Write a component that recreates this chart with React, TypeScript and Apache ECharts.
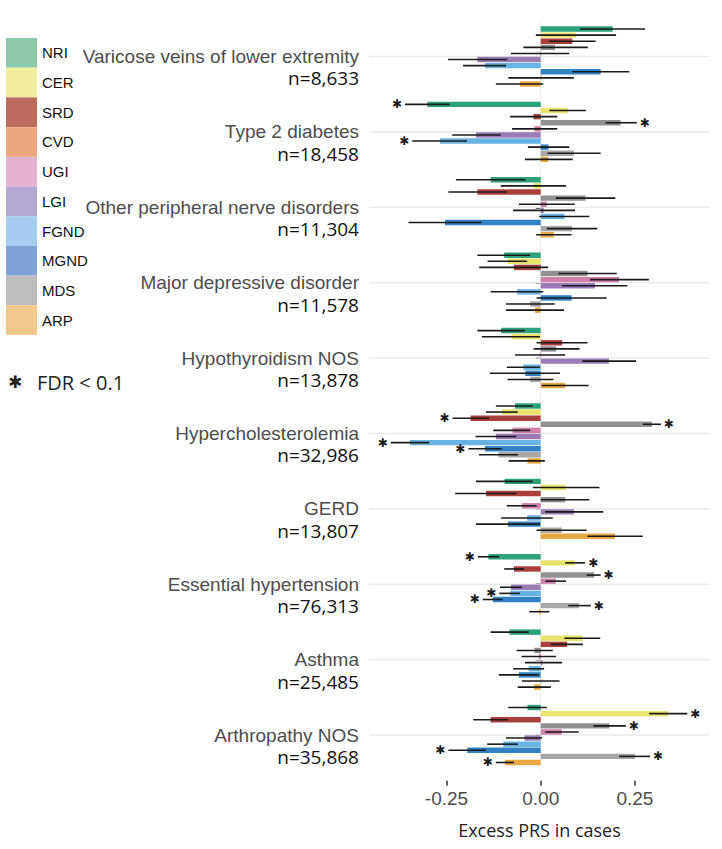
import React, { useEffect, useRef } from "react";
import * as echarts from "echarts";

const categories = [
  "Varicose veins of lower extremity",
  "Type 2 diabetes",
  "Other peripheral nerve disorders",
  "Major depressive disorder",
  "Hypothyroidism NOS",
  "Hypercholesterolemia",
  "GERD",
  "Essential hypertension",
  "Asthma",
  "Arthropathy NOS",
];
const sampleSizes = ["8,633", "18,458", "11,304", "11,578", "13,878", "32,986", "13,807", "76,313", "25,485", "35,868"];
const subgroups = ["NRI", "CER", "SRD", "CVD", "UGI", "LGI", "FGND", "MGND", "MDS", "ARP"];

// rows: diseases, columns: subgroups (NRI..ARP)
const estimates = [
  [0.191, 0.094, 0.084, 0.038, -0.002, -0.168, -0.148, 0.159, 0.001, -0.055],
  [-0.301, 0.072, -0.019, 0.212, -0.017, -0.172, -0.267, 0.021, 0.088, 0.02],
  [-0.133, -0.019, -0.168, 0.119, 0.016, 0.008, 0.063, -0.254, 0.083, 0.035],
  [-0.097, -0.088, -0.071, 0.124, 0.208, 0.144, -0.063, 0.082, -0.028, -0.015],
  [-0.105, -0.077, 0.057, 0.041, -0.001, 0.181, -0.046, -0.041, -0.028, 0.065],
  [-0.068, -0.103, -0.186, 0.295, -0.075, -0.119, -0.347, -0.148, -0.112, -0.035],
  [-0.096, 0.067, -0.145, 0.065, -0.05, 0.088, -0.036, -0.087, 0.056, 0.197],
  [-0.139, 0.091, -0.071, 0.142, 0.04, -0.079, -0.081, -0.127, 0.102, -0.004],
  [-0.083, 0.111, 0.07, -0.017, -0.005, 0.004, -0.032, -0.058, 0.002, -0.018],
  [-0.035, 0.338, -0.133, 0.182, 0.056, -0.043, -0.099, -0.195, 0.25, -0.095],
];
const ciLow = [
  [0.104, -0.013, 0.022, -0.046, -0.079, -0.246, -0.206, 0.084, -0.086, -0.119],
  [-0.36, 0.023, -0.081, 0.172, -0.076, -0.235, -0.341, -0.034, 0.018, -0.042],
  [-0.225, -0.106, -0.245, 0.04, -0.058, -0.073, -0.004, -0.351, 0.016, -0.012],
  [-0.168, -0.141, -0.163, 0.047, 0.131, 0.057, -0.133, -0.011, -0.092, -0.092],
  [-0.168, -0.156, -0.011, -0.019, -0.068, 0.11, -0.09, -0.135, -0.088, 0.003],
  [-0.119, -0.145, -0.234, 0.271, -0.126, -0.173, -0.398, -0.192, -0.164, -0.085],
  [-0.172, -0.021, -0.227, 0.0, -0.09, 0.012, -0.105, -0.172, -0.011, 0.124],
  [-0.167, 0.065, -0.097, 0.122, 0.012, -0.108, -0.11, -0.154, 0.073, -0.03],
  [-0.133, 0.063, 0.027, -0.064, -0.051, -0.042, -0.073, -0.111, -0.05, -0.061],
  [-0.086, 0.288, -0.179, 0.14, 0.012, -0.092, -0.142, -0.245, 0.208, -0.119],
];
const ciHigh = [
  [0.277, 0.2, 0.146, 0.125, 0.076, -0.089, -0.092, 0.235, 0.088, 0.007],
  [-0.242, 0.12, 0.044, 0.255, 0.044, -0.106, -0.196, 0.076, 0.159, 0.085],
  [-0.04, 0.067, -0.09, 0.198, 0.09, 0.091, 0.129, -0.157, 0.15, 0.082],
  [-0.028, -0.036, 0.02, 0.202, 0.287, 0.23, 0.007, 0.175, 0.037, 0.062],
  [-0.042, -0.002, 0.124, 0.103, 0.065, 0.253, -0.002, 0.051, 0.034, 0.127],
  [-0.021, -0.061, -0.137, 0.319, -0.028, -0.065, -0.296, -0.103, -0.06, 0.011],
  [-0.021, 0.156, -0.064, 0.129, -0.011, 0.166, 0.032, -0.002, 0.122, 0.271],
  [-0.11, 0.118, -0.044, 0.159, 0.067, -0.05, -0.055, -0.101, 0.133, 0.023],
  [-0.032, 0.158, 0.112, 0.032, 0.041, 0.057, 0.009, -0.005, 0.05, 0.027],
  [0.016, 0.389, -0.087, 0.226, 0.101, 0.004, -0.06, -0.145, 0.29, -0.071],
];
const fdrSignificant = [
  [0, 0, 0, 0, 0, 0, 0, 0, 0, 0],
  [1, 0, 0, 1, 0, 0, 1, 0, 0, 0],
  [0, 0, 0, 0, 0, 0, 0, 0, 0, 0],
  [0, 0, 0, 0, 0, 0, 0, 0, 0, 0],
  [0, 0, 0, 0, 0, 0, 0, 0, 0, 0],
  [0, 0, 1, 1, 0, 0, 1, 1, 0, 0],
  [0, 0, 0, 0, 0, 0, 0, 0, 0, 0],
  [1, 1, 0, 1, 0, 0, 1, 1, 1, 0],
  [0, 0, 0, 0, 0, 0, 0, 0, 0, 0],
  [0, 1, 0, 1, 0, 0, 0, 1, 1, 1],
];
const xTicks = [-0.25, 0, 0.25];

const barColors = ["#2ea07c", "#e8e46e", "#aa403c", "#919191", "#ce80aa", "#9a7cb4", "#68b2e4", "#3282c3", "#a8a8a8", "#e8a844"];
const legendColors = ["#8cc8a9", "#f2ee9f", "#bd6b5c", "#eca77f", "#e4b3cf", "#b3a8d0", "#a4cdef", "#7ea3d4", "#bdbdbd", "#f2c88c"];

const X_MIN = -0.4557;
const X_MAX = 0.4493;

export default function App() {
  const ref = useRef<HTMLDivElement>(null);
  useEffect(() => {
    document.body.style.margin = "0";
    if (!ref.current) return;
    const chart = echarts.init(ref.current, null, { renderer: "svg" });

    const gridSeries: any = {
      type: "custom",
      name: "__grid",
      silent: true,
      z: 1,
      data: categories.map((_, i) => [0, i]),
      encode: { x: 0, y: 1 },
      renderItem: (params: any, api: any) => {
        const cs = params.coordSys;
        const i = api.value(1);
        const p = api.coord([0, i]);
        const children: any[] = [
          {
            type: "line",
            shape: { x1: cs.x, y1: p[1], x2: cs.x + cs.width, y2: p[1] },
            style: { stroke: "#ebebeb", lineWidth: 1.6 },
          },
        ];
        if (i === 0) {
          children.push({
            type: "line",
            shape: { x1: p[0], y1: cs.y, x2: p[0], y2: cs.y + cs.height },
            style: { stroke: "#ececec", lineWidth: 1 },
          });
        }
        return { type: "group", children };
      },
    };

    const barSeries = subgroups.map((name, j) => ({
      type: "custom",
      name,
      z: 2,
      itemStyle: { color: legendColors[j] },
      data: categories.map((_, i) => [
        estimates[i][j],
        ciLow[i][j],
        ciHigh[i][j],
        fdrSignificant[i][j],
        i,
      ]),
      encode: { x: [0, 1, 2], y: 4 },
      renderItem: (params: any, api: any) => {
        const v = api.value(0);
        const lo = api.value(1);
        const hi = api.value(2);
        const sig = api.value(3);
        const cat = api.value(4);
        const band = api.size([0, 1])[1];
        const off = (j - 4.5) * band * 0.081;
        const h = band * 0.072;
        const p0 = api.coord([0, cat]);
        const pv = api.coord([v, cat]);
        const pl = api.coord([lo, cat]);
        const ph = api.coord([hi, cat]);
        const y = p0[1] + off;
        const children: any[] = [
          {
            type: "rect",
            shape: {
              x: Math.min(p0[0], pv[0]),
              y: y - h / 2,
              width: Math.max(Math.abs(pv[0] - p0[0]), 0.8),
              height: h,
            },
            style: { fill: barColors[j] },
          },
          {
            type: "line",
            shape: { x1: pl[0], y1: y, x2: ph[0], y2: y },
            style: { stroke: "#1a1a1a", lineWidth: 1.6 },
          },
        ];
        if (sig) {
          const ax = v > 0 ? ph[0] + 8 : pl[0] - 8;
          children.push({
            type: "text",
            x: ax,
            y: y,
            style: {
              text: "✱",
              fontSize: 12,
              fontFamily: "DejaVu Sans",
              fill: "#1a1a1a",
              align: "center",
              verticalAlign: "middle",
            },
          });
        }
        return { type: "group", children };
      },
    }));

    chart.setOption({
      animation: false,
      grid: { left: 369, right: 12, top: 18.8, bottom: 76.3 },
      legend: {
        data: subgroups,
        orient: "vertical",
        left: 6,
        top: 38,
        padding: 0,
        itemGap: 0,
        itemWidth: 31,
        itemHeight: 29.7,
        icon: "rect",
        selectedMode: false,
        textStyle: { fontSize: 15, fontFamily: "Liberation Sans", color: "#111" },
      },
      xAxis: {
        type: "value",
        min: X_MIN,
        max: X_MAX,
        offset: 8,
        axisLine: { show: false },
        splitLine: { show: false },
        axisTick: {
          show: true,
          customValues: xTicks,
          length: 5,
          lineStyle: { color: "#333", width: 1.5 },
        },
        axisLabel: {
          customValues: xTicks,
          formatter: (v: number) => v.toFixed(2),
          color: "#4d4d4d",
          fontSize: 19,
          fontFamily: "Liberation Sans",
          margin: 8,
        },
        name: "Excess PRS in cases",
        nameLocation: "middle",
        nameGap: 40,
        nameTextStyle: { fontSize: 18, fontFamily: "Open Sans", color: "#222" },
      },
      yAxis: {
        type: "category",
        inverse: true,
        data: categories,
        axisLine: { show: false },
        splitLine: { show: false },
        axisTick: {
          show: true,
          alignWithLabel: true,
          length: 5,
          lineStyle: { color: "#333", width: 1.5 },
        },
        axisLabel: {
          margin: 10,
          interval: 0,
          align: "right",
          formatter: (value: string, index: number) =>
            `{e| }\n{a|${value}}\n{b|n=${sampleSizes[index]}}`,
          rich: {
            e: { fontSize: 10, lineHeight: 22 },
            a: { fontSize: 19, fontFamily: "Liberation Sans", color: "#4d4d4d", lineHeight: 22, align: "right" },
            b: { fontSize: 19, fontFamily: "Open Sans", color: "#111", lineHeight: 22, align: "right" },
          },
        },
      },
      graphic: [
        {
          type: "text",
          x: 15,
          y: 382,
          style: {
            text: "✱",
            fontSize: 17,
            fontFamily: "DejaVu Sans",
            fill: "#222",
            align: "center",
            verticalAlign: "middle",
          },
        },
        {
          type: "text",
          x: 37,
          y: 382,
          style: {
            text: "FDR < 0.1",
            fontSize: 20,
            fontFamily: "Open Sans",
            fill: "#222",
            align: "left",
            verticalAlign: "middle",
          },
        },
      ],
      series: [gridSeries, ...barSeries],
    });
    return () => chart.dispose();
  }, []);
  return <div ref={ref} style={{ width: 722, height: 849 }} />;
}
